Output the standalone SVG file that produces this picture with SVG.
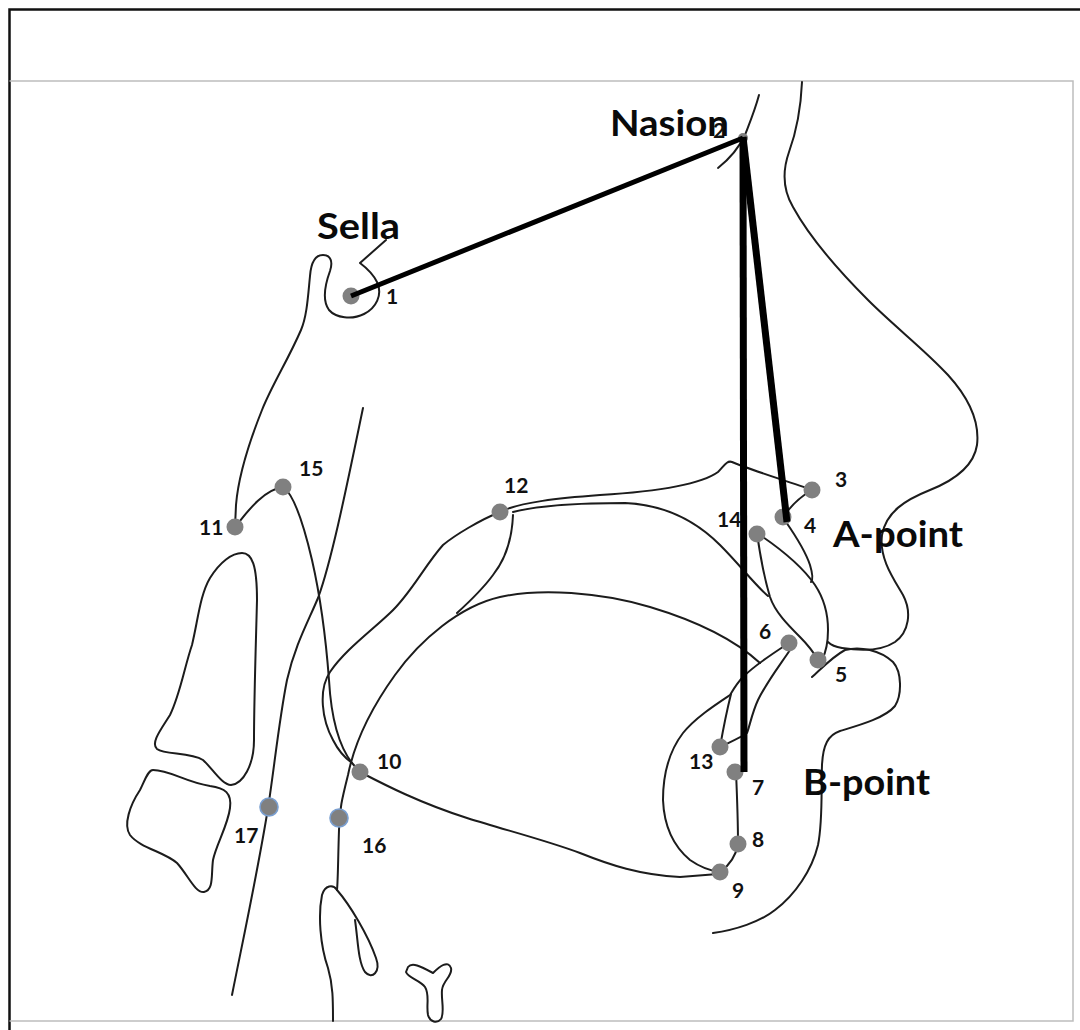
<svg xmlns="http://www.w3.org/2000/svg" width="1080" height="1030" viewBox="0 0 1080 1030">
<style>
.c{fill:none;stroke:#1c1c1c;stroke-width:2;stroke-linecap:round;stroke-linejoin:round}
.d{fill:#808080}
.db{fill:#808080;stroke:#7a9fd0;stroke-width:1.6}
.n{font-family:Lato,"Open Sans","DejaVu Sans",sans-serif;font-weight:700;font-size:21px;fill:#111}
.b{font-family:Lato,"Open Sans","DejaVu Sans",sans-serif;font-weight:700;font-size:37px;fill:#0a0a0a}
.t{fill:none;stroke:#000;stroke-linecap:butt}
</style>
<rect x="0" y="0" width="1080" height="1030" fill="#fff"/>
<rect x="9.5" y="9.5" width="1100" height="1060" fill="none" stroke="#111" stroke-width="2.5"/>
<path d="M9.5,81 H1073 V1021 H9.5" fill="none" stroke="#bdbdbd" stroke-width="1.5"/>

<g id="anatomy">
<path class="c" d="M386,240 L360,263 Q372,272 377,282 C383,295 376,308 364,314 C352,320 336,318 329,310 C321,299 326,282 330,271 C333,262 331,255 323,255 C315,255 311,263 310,276 C308,296 307,316 301,330 C288,360 272,385 262,410 C248,445 238,480 236,505 L235,527"/>
<path class="c" d="M235,527 C245,515 262,490 283,487"/>
<path class="c" d="M283,487 C295,495 305,530 312,560 C320,595 326,640 329,680 C331,715 338,745 352,763 L360,772"/>
<path class="c" d="M500,512 C480,520 455,535 443,545 C425,565 410,595 390,613 C370,632 345,650 330,672 C318,690 322,720 333,740 C338,750 345,758 352,763"/>
<path class="c" d="M363,408 C348,480 332,560 318,598 C308,622 295,645 287,680 C279,720 274,770 268,808 C258,870 244,935 232,995"/>
<path class="c" d="M760,663 C735,640 700,622 650,607 C600,592 540,588 500,597 C460,606 420,640 395,675 C372,707 355,740 348,775 C343,795 339,810 339,830 C338,860 338,880 337,890"/>
<path class="c" d="M360,772 C385,785 420,803 467,818 C505,830 545,840 580,853 C610,865 640,875 680,877 L718,874"/>
<path class="c" d="M337,890 C350,905 368,935 376,958 C381,972 372,980 365,972 C358,962 358,940 355,920"/>
<path class="c" d="M337,890 C333,884 325,885 322,895 C318,915 320,945 328,968 C333,985 333,1000 333,1021"/>
<path class="c" d="M408,967 C412,962 420,966 433,973 C440,966 448,960 451,968 C453,976 443,980 442,990 C441,1000 445,1012 441,1019 C437,1024 430,1022 428,1015 C426,1005 430,995 425,987 C420,980 408,978 406,972 Z"/>
<path class="c" d="M242,553 C252,553 257,565 257,600 C256,640 254,700 254,740 C254,765 243,784 231,785 C222,785 212,768 203,760 C190,752 165,755 157,749 C150,743 162,728 170,715 C180,695 185,665 192,645 C198,620 200,595 210,578 C220,562 232,553 242,553 Z"/>
<path class="c" d="M153,770 C170,770 185,782 210,786 C225,788 232,793 230,808 C228,825 216,845 213,860 C211,875 214,890 204,892 C195,893 188,875 177,863 C165,852 140,848 130,835 C123,825 130,805 140,790 C145,780 148,770 153,770 Z"/>
<path class="c" d="M500,512 C520,502 560,498 600,495 C650,492 700,485 718,472 C724,466 727,460 732,462 C745,468 790,482 812,490"/>
<path class="c" d="M513,512 C540,505 590,503 625,503 C670,505 700,525 720,545 C740,565 755,585 768,596"/>
<path class="c" d="M513,515 C512,540 505,560 493,575 C482,590 468,603 457,613"/>
<path class="c" d="M812,490 C800,497 790,507 784,516"/>
<path class="c" d="M786,522 C795,535 805,550 810,565 C813,575 813,580 811,582"/>
<path class="c" d="M757,533 C760,555 765,580 770,597 C775,612 788,625 800,637 C808,645 814,653 818,660"/>
<path class="c" d="M757,533 C775,545 800,563 815,585 C825,600 828,615 828,630 C828,645 826,652 822,660"/>
<path class="c" d="M802,82 C801,105 797,130 789,152 C782,172 783,190 793,207 C810,238 840,272 868,300 C895,327 925,350 948,375 C968,397 980,420 977,445 C974,465 955,480 930,490 C905,500 886,512 882,535 C879,558 893,578 903,595 C912,612 909,632 895,642 C880,652 855,650 842,648 C836,647 831,645 828,642"/>
<path class="c" d="M812,677 C820,670 832,657 845,650 C860,646 880,650 893,662 C902,672 902,695 895,706 C885,718 860,725 840,731 C828,735 823,745 822,765 C821,790 823,820 818,845 C812,870 795,895 775,910 C760,922 735,930 713,933"/>
<path class="c" d="M789,643 C775,652 755,665 743,677 C737,683 733,690 730,695 C715,705 695,718 683,733 C670,750 663,770 663,800 C664,825 672,845 690,860 C700,867 712,871 720,872"/>
<path class="c" d="M720,747 C723,730 727,710 731,694"/>
<path class="c" d="M790,650 C780,665 768,680 758,700 C752,713 750,725 747,733 C740,738 730,742 720,747"/>
<path class="c" d="M736,772 C737,795 738,820 738,844"/>
<path class="c" d="M738,844 C736,855 730,865 720,872"/>
<path class="c" d="M759,95 C755,110 750,122 745,135 C738,150 728,160 718,168"/>
</g>

<g id="p1"><circle class="d" cx="351" cy="296" r="8.5"/><text class="n" x="386" y="304">1</text></g>
<g id="p2"><circle class="d" cx="743" cy="138" r="5"/></g>
<g id="p3"><circle class="d" cx="812" cy="490" r="8.5"/><text class="n" x="835" y="487">3</text></g>
<g id="p4"><circle class="d" cx="783" cy="517" r="8.5"/><text class="n" x="804" y="533">4</text></g>
<g id="p5"><circle class="d" cx="818" cy="660" r="8.5"/><text class="n" x="835" y="682">5</text></g>
<g id="p6"><circle class="d" cx="789" cy="643" r="8.5"/><text class="n" x="759" y="639">6</text></g>
<g id="p7"><circle class="d" cx="735" cy="772" r="8.5"/><text class="n" x="752" y="795">7</text></g>
<g id="p8"><circle class="d" cx="738" cy="844" r="8.5"/><text class="n" x="752" y="847">8</text></g>
<g id="p9"><circle class="d" cx="720" cy="872" r="8.5"/><text class="n" x="732" y="898">9</text></g>
<g id="p10"><circle class="d" cx="360" cy="772" r="8.5"/><text class="n" x="377" y="769">10</text></g>
<g id="p11"><circle class="d" cx="235" cy="527" r="8.5"/><text class="n" x="199" y="535">11</text></g>
<g id="p12"><circle class="d" cx="500" cy="512" r="8.5"/><text class="n" x="504" y="493">12</text></g>
<g id="p13"><circle class="d" cx="720" cy="747" r="8.5"/><text class="n" x="689" y="769">13</text></g>
<g id="p14"><circle class="d" cx="757" cy="534" r="8.5"/><text class="n" x="717" y="527">14</text></g>
<g id="p15"><circle class="d" cx="283" cy="487" r="8.5"/><text class="n" x="299" y="476">15</text></g>
<g id="p16"><circle class="db" cx="339" cy="818" r="9"/><text class="n" x="362" y="853">16</text></g>
<g id="p17"><circle class="db" cx="269" cy="807" r="9"/><text class="n" x="234" y="843">17</text></g>

<g id="connectors">
<line class="t" x1="351" y1="296" x2="743" y2="138" stroke-width="5"/>
<line class="t" x1="743" y1="137" x2="744" y2="772" stroke-width="7"/>
<line class="t" x1="743" y1="137" x2="787" y2="522" stroke-width="7"/>
</g>

<g id="labels">
<text class="b" x="317" y="239" textLength="83" lengthAdjust="spacingAndGlyphs">Sella</text>
<text class="b" x="610" y="136" textLength="119" lengthAdjust="spacingAndGlyphs">Nasion</text>
<text class="n" x="713" y="138">2</text>
<text class="b" x="833" y="547" textLength="130" lengthAdjust="spacingAndGlyphs">A-point</text>
<text class="b" x="803" y="795" textLength="127" lengthAdjust="spacingAndGlyphs">B-point</text>
</g>
</svg>
